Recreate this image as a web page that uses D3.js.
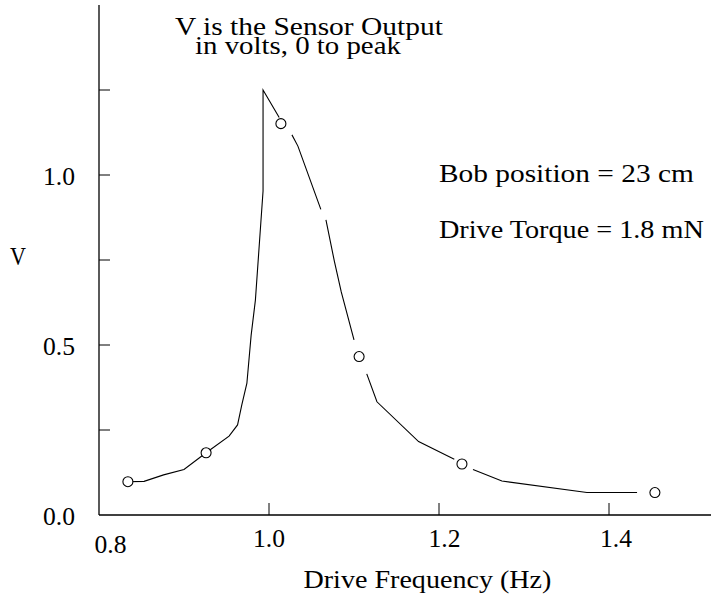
<!DOCTYPE html>
<html>
<head>
<meta charset="utf-8">
<script src="https://cdn.jsdelivr.net/npm/d3@7"></script>
<style>
  html, body { margin: 0; padding: 0; background: #fff; }
  svg { display: block; }
</style>
</head>
<body>
<svg id="chart" width="717" height="599"></svg>
<script>
// ---- data ----
// measured response curve; null marks a break in the drawn line
const curveFreq = [0.834, 0.853, 0.876, 0.900, 0.926, 0.953, 0.963, 0.968, 0.974, 0.979, 0.984, 0.993, 0.993, 1.012,
                   null, 1.027, 1.034, 1.061,
                   null, 1.067, 1.077, 1.085, 1.100,
                   null, 1.115, 1.127, 1.176, 1.218,
                   null, 1.240, 1.274, 1.374, 1.407, 1.433];
const curveV    = [0.098, 0.099, 0.118, 0.134, 0.183, 0.232, 0.265, 0.324, 0.388, 0.529, 0.632, 0.953, 1.250, 1.169,
                   null, 1.118, 1.085, 0.899,
                   null, 0.868, 0.745, 0.656, 0.515,
                   null, 0.415, 0.333, 0.216, 0.164,
                   null, 0.134, 0.100, 0.066, 0.066, 0.066];
// circled points
const markerFreq = [0.834, 0.926, 1.014, 1.106, 1.227, 1.454];
const markerV    = [0.098, 0.183, 1.151, 0.466, 0.150, 0.066];

const xTicks = [1.0, 1.2, 1.4];
const xTickLabels = ["0.8", "1.0", "1.2", "1.4"];
const xLabelValues = [0.8, 1.0, 1.2, 1.4];
const yTicks = [0.25, 0.5, 0.75, 1.0, 1.25];
const yLabelValues = [0.0, 0.5, 1.0];
const yTickLabels = ["0.0", "0.5", "1.0"];

const xTitle = "Drive Frequency (Hz)";
const yTitle = "V";
const noteLines = ["V is the Sensor Output", "in volts, 0 to peak"];
const infoLines = ["Bob position = 23 cm", "Drive Torque = 1.8 mN"];

// ---- drawing ----
const svg = d3.select("#chart");
const x = d3.scaleLinear().domain([0.8, 1.52]).range([99, 711]);
const y = d3.scaleLinear().domain([0, 1.5]).range([515, 5]);
const FS = "25px";

// serif text, left edge at `left`, baseline at `base`, stretched horizontally to `width`
function placeText(str, left, base, width) {
  const t = svg.append("text")
    .style("font-family", "'Liberation Serif'")
    .style("font-size", FS)
    .style("fill", "#000")
    .text(str);
  let sx = 1;
  if (width) {
    const w = t.node().getComputedTextLength();
    if (w > 0) sx = width / w;
  }
  t.attr("transform", `translate(${left},${base}) scale(${sx},1)`);
  return t;
}

// axes lines
svg.append("line").attr("x1", x(0.8)).attr("x2", x(0.8)).attr("y1", y(0)).attr("y2", y(1.5))
  .attr("stroke", "#000").attr("stroke-width", 1.3);
svg.append("line").attr("x1", x(0.8)).attr("x2", x(1.52)).attr("y1", y(0)).attr("y2", y(0))
  .attr("stroke", "#000").attr("stroke-width", 1.3);

// ticks (inward)
svg.selectAll(".yt").data(yTicks).enter().append("line")
  .attr("x1", x(0.8)).attr("x2", x(0.8) + 11)
  .attr("y1", d => y(d)).attr("y2", d => y(d))
  .attr("stroke", "#000").attr("stroke-width", 1);
svg.selectAll(".xt").data(xTicks).enter().append("line")
  .attr("x1", d => x(d)).attr("x2", d => x(d))
  .attr("y1", y(0)).attr("y2", y(0) - 12)
  .attr("stroke", "#000").attr("stroke-width", 1);

// tick labels
yLabelValues.forEach((v, i) => placeText(yTickLabels[i], 43, y(v) + 9.5, 32));

function xNudge(v) {
  if (v === 0.8) return [11.5, 6.5];
  if (v === 1.2) return [5.5, 0];
  if (v === 1.4) return [7, 0];
  return [0, 0];
}
xLabelValues.forEach((v, i) => {
  const n = xNudge(v);
  placeText(xTickLabels[i], x(v) + n[0] - 16, 546.5 + n[1], 32);
});

// axis titles
placeText(xTitle, 303.5, 588, 248);
placeText(yTitle, 10, 265, 16);

// annotations
placeText(noteLines[0], 175, 34.5, 268);
placeText(noteLines[1], 195, 54, 206);
placeText(infoLines[0], 439, 182, 255);
placeText(infoLines[1], 439, 237.5, 265);

// curve
const pts = curveFreq.map((f, i) => (f === null ? null : [f, curveV[i]]));
const line = d3.line().defined(d => d !== null).x(d => x(d[0])).y(d => y(d[1]));
svg.append("path").datum(pts).attr("d", line)
  .attr("fill", "none").attr("stroke", "#000").attr("stroke-width", 1.1)
  .attr("stroke-linejoin", "miter");

// markers
svg.selectAll(".mk").data(markerFreq).enter().append("circle")
  .attr("cx", d => x(d)).attr("cy", (d, i) => y(markerV[i])).attr("r", 5)
  .attr("fill", "#fff").attr("stroke", "#000").attr("stroke-width", 1.1);
</script>
</body>
</html>
